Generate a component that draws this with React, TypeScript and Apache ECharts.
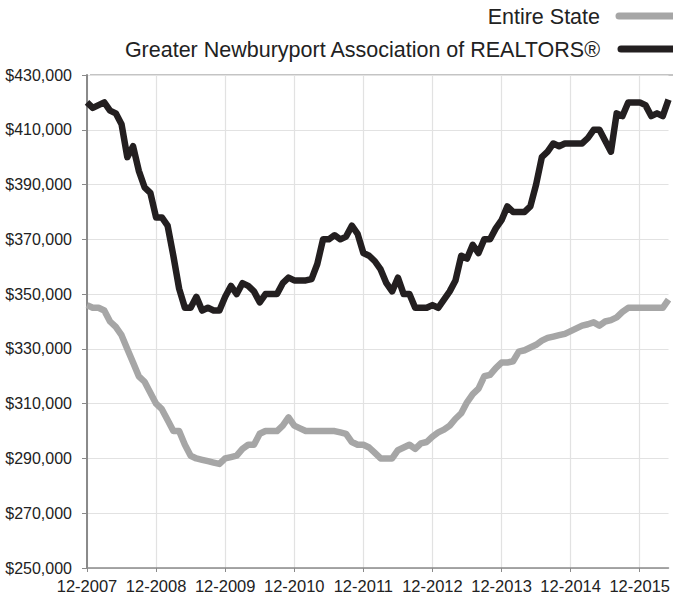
import React, { useEffect, useRef } from "react";
import * as echarts from "echarts";

// Monthly median price, Dec 2007 .. May 2016 (values in dollars / 1000)
const startYear = 2007;
const startMonth = 12;
const newburyport = [
  420, 418, 419, 420, 417, 416, 412, 400, 404, 395, 389, 387,
  378, 378, 375, 364, 352, 345, 345, 349, 344, 345, 344, 344,
  349, 353, 350, 354, 353, 351, 347, 350, 350, 350, 354, 356,
  355, 355, 355, 355.5, 361, 370, 370, 371.5, 370, 371, 375, 372,
  365, 364, 362, 359, 354, 351, 356, 350, 350, 345, 345, 345,
  346, 345, 348, 351, 355, 364, 363, 368, 365, 370, 370, 374,
  377, 382, 380, 380, 380, 382, 390, 400, 402, 405, 404, 405,
  405, 405, 405, 407, 410, 410, 406, 402, 416, 415, 420, 420,
  420, 419, 415, 416, 415, 421,
];
const entireState = [
  346, 345, 345, 344, 340, 338, 335, 330, 325, 320, 318, 314,
  310, 308, 304, 300, 300, 295, 291, 290, 289.5, 289, 288.5, 288,
  290, 290.5, 291, 293.5, 295, 295, 299, 300, 300, 300, 302, 305,
  302, 301, 300, 300, 300, 300, 300, 300, 299.5, 299, 296, 295,
  295, 294, 292, 290, 290, 290, 293, 294, 295, 293.5, 295.5, 296,
  298, 299.5, 300.5, 302, 304.5, 306.5, 310.5, 313.5, 315.5, 320, 320.5, 323,
  325, 325, 325.5, 329, 329.5, 330.5, 331.5, 333, 334, 334.5, 335, 335.5,
  336.5, 337.5, 338.5, 339, 339.7, 338.5, 340, 340.5, 341.5, 343.5, 345, 345,
  345, 345, 345, 345, 345, 348,
];
const seriesNames = ["Entire State", "Greater Newburyport Association of REALTORS®"];
const yMin = 250000;
const yMax = 430000;
const yStep = 20000;

const categories: string[] = newburyport.map((_, i) => {
  const m0 = startMonth - 1 + i;
  return `${(m0 % 12) + 1}-${startYear + Math.floor(m0 / 12)}`;
});

export default function App() {
  const ref = useRef<HTMLDivElement>(null);
  useEffect(() => {
    if (!ref.current) return;
    const chart = echarts.init(ref.current, undefined, { renderer: "svg" });
    const font = "'Liberation Sans', Arial, Helvetica, sans-serif";
    chart.setOption({
      animation: false,
      grid: { left: 87, right: 0, top: 75, bottom: 24, containLabel: false },
      xAxis: {
        type: "category",
        data: categories,
        boundaryGap: false,
        axisLine: { lineStyle: { color: "#8a8a8a", width: 1.5 } },
        axisTick: { interval: 11, length: 4, lineStyle: { color: "#8a8a8a" } },
        axisLabel: { interval: 11, color: "#222", fontSize: 16.5, fontFamily: font, margin: 9 },
        splitLine: { show: true, interval: 11, lineStyle: { color: "#e2e2e2", width: 1.2 } },
      },
      yAxis: {
        type: "value",
        min: yMin,
        max: yMax,
        interval: yStep,
        axisLine: { show: true, lineStyle: { color: "#8a8a8a", width: 2 } },
        axisTick: { show: true, length: 5, lineStyle: { color: "#8a8a8a" } },
        axisLabel: {
          color: "#222",
          fontSize: 16,
          fontFamily: font,
          margin: 15,
          formatter: (v: number) => "$" + v.toLocaleString("en-US"),
        },
        splitLine: { lineStyle: { color: "#e2e2e2", width: 1.2 } },
      },
      series: [
        {
          name: seriesNames[0],
          type: "line",
          data: entireState.map((v) => v * 1000),
          showSymbol: false,
          lineStyle: { color: "#a6a6a6", width: 6.5, join: "round" },
          itemStyle: { color: "#a6a6a6" },
        },
        {
          name: seriesNames[1],
          type: "line",
          data: newburyport.map((v) => v * 1000),
          showSymbol: false,
          lineStyle: { color: "#231f20", width: 6.5, join: "round" },
          itemStyle: { color: "#231f20" },
        },
      ],
      graphic: [
        {
          type: "line",
          shape: { x1: 90, y1: 75, x2: 673, y2: 75 },
          style: { stroke: "#8a8a8a", lineWidth: 1.2 },
          silent: true,
        },
        {
          type: "text",
          x: 600,
          y: 17,
          style: { text: seriesNames[0], fill: "#222", font: `21.5px ${font}`, textAlign: "right", textVerticalAlign: "middle" },
        },
        {
          type: "line",
          shape: { x1: 619, y1: 16, x2: 690, y2: 16 },
          style: { stroke: "#a6a6a6", lineWidth: 7, lineCap: "round" },
        },
        {
          type: "text",
          x: 600,
          y: 50,
          style: { text: seriesNames[1], fill: "#222", font: `21.5px ${font}`, textAlign: "right", textVerticalAlign: "middle" },
        },
        {
          type: "line",
          shape: { x1: 621, y1: 49, x2: 690, y2: 49 },
          style: { stroke: "#231f20", lineWidth: 7, lineCap: "round" },
        },
      ],
    });
    return () => chart.dispose();
  }, []);
  return <div ref={ref} style={{ width: 673, height: 594, position: "absolute", left: 0, top: 0 }} />;
}
